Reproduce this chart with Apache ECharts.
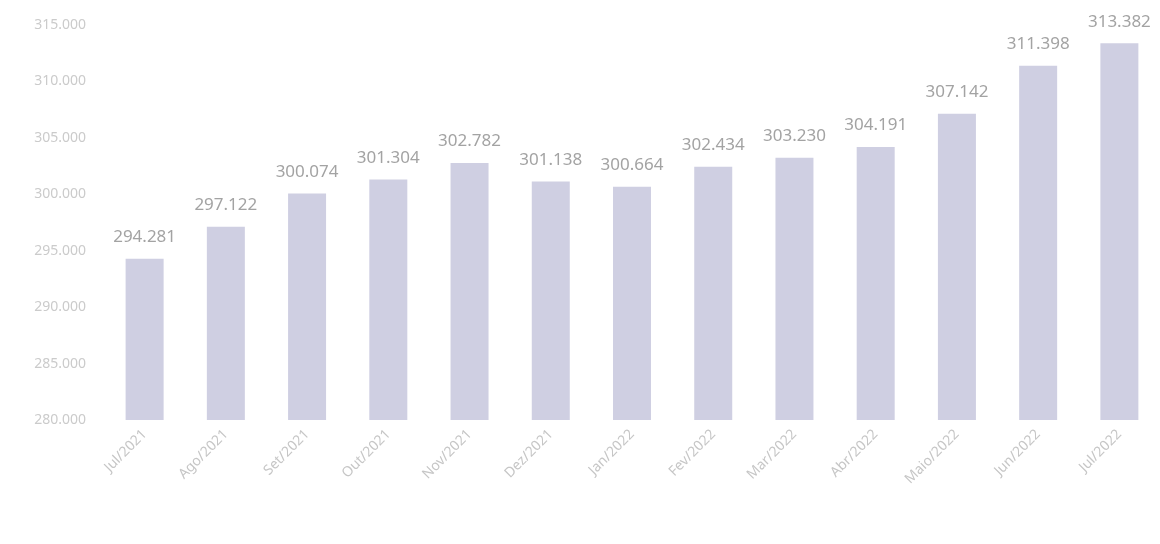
<!DOCTYPE html>
<html>
<head>
<meta charset="utf-8">
<script src="https://cdn.jsdelivr.net/npm/echarts@6/dist/echarts.min.js"></script>
<style>
  html, body { margin: 0; padding: 0; background: #fff; }
  #chart { width: 1160px; height: 544px; }
</style>
</head>
<body>
<div id="chart"></div>
<script>
// Monthly totals, July 2021 to July 2022
const months = ['Jul/2021', 'Ago/2021', 'Set/2021', 'Out/2021', 'Nov/2021', 'Dez/2021',
  'Jan/2022', 'Fev/2022', 'Mar/2022', 'Abr/2022', 'Maio/2022', 'Jun/2022', 'Jul/2022'];
const totals = [294281, 297122, 300074, 301304, 302782, 301138,
  300664, 302434, 303230, 304191, 307142, 311398, 313382];
const axisMin = 280000;
const axisMax = 315000;
const axisStep = 5000;

// Thousands separated with a dot, e.g. 294.281
function fmt(v) {
  const t = Math.floor(v / 1000);
  const r = String(Math.round(v % 1000)).padStart(3, '0');
  return t + '.' + r;
}

const chart = echarts.init(document.getElementById('chart'), null, { renderer: 'canvas' });
chart.setOption({
  animation: false,
  backgroundColor: '#ffffff',
  grid: { left: 104, width: 1058, top: 25, bottom: 124 },
  xAxis: {
    type: 'category',
    data: months,
    axisLine: { show: false },
    axisTick: { show: false },
    axisLabel: {
      rotate: 45,
      margin: 12,
      color: '#c6c6c6',
      fontSize: 14,
      fontFamily: 'Noto Sans'
    }
  },
  yAxis: {
    type: 'value',
    min: axisMin,
    max: axisMax,
    interval: axisStep,
    axisLine: { show: false },
    axisTick: { show: false },
    splitLine: { show: false },
    axisLabel: {
      margin: 18,
      color: '#cbcbcb',
      fontSize: 14,
      fontFamily: 'Noto Sans',
      formatter: fmt
    }
  },
  series: [{
    type: 'bar',
    data: totals,
    barWidth: 38,
    itemStyle: { color: '#cfcfe2' },
    label: {
      show: true,
      position: 'top',
      distance: 13,
      color: '#a3a3a3',
      fontSize: 17,
      fontFamily: 'Noto Sans',
      formatter: p => fmt(p.value)
    }
  }]
});
</script>
</body>
</html>
